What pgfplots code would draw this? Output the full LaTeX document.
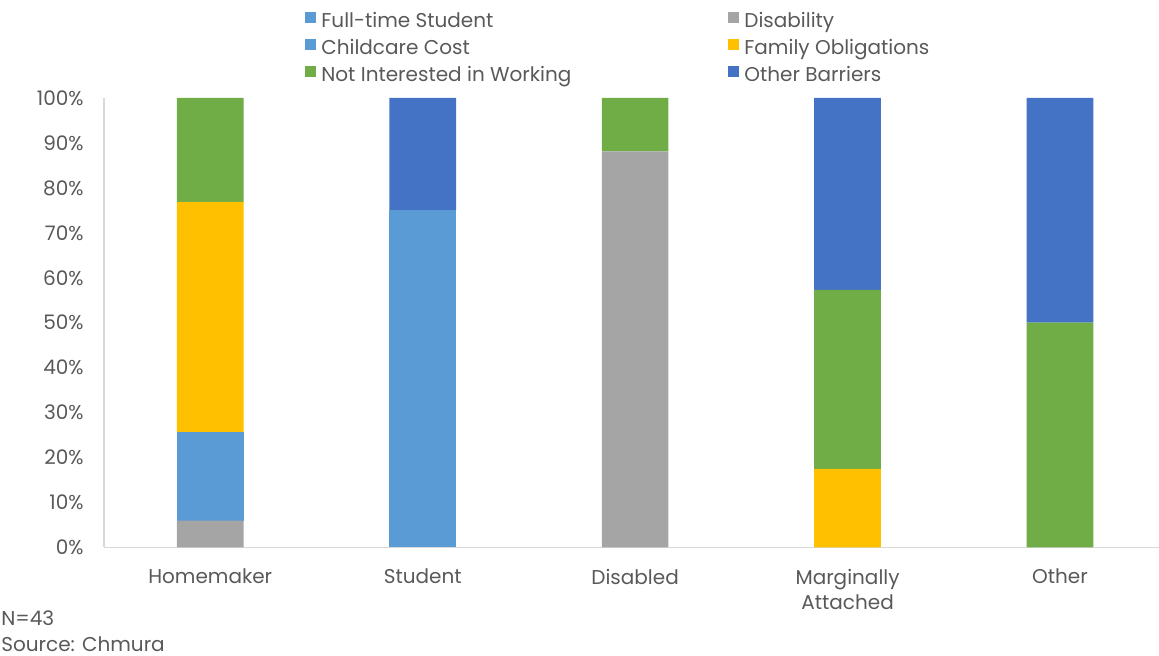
\documentclass[border=0pt]{standalone}
\usepackage{pgfplots}
\usepackage{pgfplotstable}
\pgfplotsset{compat=1.18}
\usepackage{fontspec}
\setmainfont{Poppins}

\definecolor{txt}{HTML}{595959}
\definecolor{axln}{HTML}{D9D9D9}
\definecolor{cFTS}{HTML}{5B9BD5}
\definecolor{cDis}{HTML}{A5A5A5}
\definecolor{cChild}{HTML}{5B9BD5}
\definecolor{cFam}{HTML}{FFC000}
\definecolor{cNot}{HTML}{70AD47}
\definecolor{cOth}{HTML}{4472C4}

% share of each reason, in percent
\pgfplotstableread{
x  fts   dis   child  fam   notint  oth
0  0     6.0   19.7   51.2  23.1    0
1  75    0     0      0     0       25
2  0     88.1  0      0     11.9    0
3  0     0     0      17.5  39.8    42.7
4  0     0     0      0     50      50
}\reasons

\newcommand{\wcol}[1]{\makebox[201pt][l]{#1}}

\begin{document}
\begin{tikzpicture}
\useasboundingbox (0,0) rectangle (579.5pt,328pt);
\begin{axis}[
  at={(52pt,54.25pt)}, anchor=south west,
  scale only axis, width=527.5pt, height=224.75pt,
  ybar stacked, bar width=33.35pt,
  xmin=-0.5, xmax=4.466, ymin=0, ymax=100,
  axis x line*=bottom, axis y line*=left,
  axis line style={draw=axln, line width=0.9pt},
  major tick length=0pt,
  xtick={0,1,2,3,4},
  xticklabels={Homemaker,Student,Disabled,{Marginally\\Attached},Other},
  xticklabel style={align=center, text=txt, font=\fontsize{10}{12.5}\selectfont, inner ysep=0pt, yshift=-10.5pt},
  ytick={0,10,...,100},
  yticklabels={0\%,10\%,20\%,30\%,40\%,50\%,60\%,70\%,80\%,90\%,100\%},
  yticklabel style={text=txt, font=\fontsize{10}{12}\selectfont, inner xsep=0pt, xshift=-10pt},
  legend columns=2,
  legend cell align=left,
  legend image code/.code={\fill[#1] (0pt,-0.3pt) rectangle (5.5pt,5.2pt);},
  legend style={at={(0.1905,1.1913)}, anchor=north west, draw=none, fill=none,
    inner sep=0pt, column sep=2.5pt, row sep=3.25pt,
    nodes={inner sep=0pt, text height=7.5pt, text depth=2.5pt, text=txt,
      font=\fontsize{10}{12}\selectfont}},
]
\addplot[fill=cFTS, draw=none] table[x=x, y=fts] {\reasons};
\addlegendentry{\wcol{Full-time Student}}
\addplot[fill=cDis, draw=none] table[x=x, y=dis] {\reasons};
\addlegendentry{Disability}
\addplot[fill=cChild, draw=none] table[x=x, y=child] {\reasons};
\addlegendentry{\wcol{Childcare Cost}}
\addplot[fill=cFam, draw=none] table[x=x, y=fam] {\reasons};
\addlegendentry{Family Obligations}
\addplot[fill=cNot, draw=none] table[x=x, y=notint] {\reasons};
\addlegendentry{\wcol{Not Interested in Working}}
\addplot[fill=cOth, draw=none] table[x=x, y=oth] {\reasons};
\addlegendentry{Other Barriers}
\end{axis}
\node[anchor=base west, inner sep=0pt, text=txt, font=\fontsize{10}{12}\selectfont] at (0.5pt,15pt) {N=43};
\node[anchor=base west, inner sep=0pt, text=txt, font=\fontsize{10}{12}\selectfont] at (0.5pt,2.2pt) {Source: Chmura};
\end{tikzpicture}
\end{document}
